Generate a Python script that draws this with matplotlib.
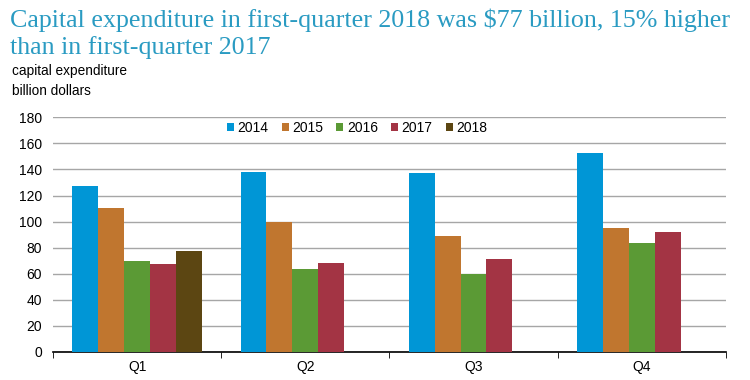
import numpy as np
import matplotlib.pyplot as plt

plt.rcParams['font.family'] = ['Liberation Sans', 'DejaVu Sans']

# datos (miles de millones de dólares)
quarters = ['Q1', 'Q2', 'Q3', 'Q4']
years = ['2014', '2015', '2016', '2017', '2018']
v2014 = [127, 138, 137.5, 153]
v2015 = [110.5, 100, 89, 95]
v2016 = [69.5, 63.5, 59.5, 83.5]
v2017 = [67, 68.5, 71.5, 92]
v2018 = [77, None, None, None]
colors = ['#0096D6', '#C0762F', '#5B9A35', '#A33444', '#5C4612']

series = [v2014, v2015, v2016, v2017, v2018]

fig = plt.figure(figsize=(7.5, 3.8), dpi=100)
ax = fig.add_axes([0.0707, 0.0745, 0.897, 0.6165])

x = np.arange(len(quarters))
w = 0.154
for i, (yr, vals, c) in enumerate(zip(years, series, colors)):
    xs = np.array([xi for xi, v in zip(x, vals) if v is not None])
    ys = [v for v in vals if v is not None]
    ax.bar(xs + (i - 2) * w, ys, width=w, color=c, label=yr, zorder=3)

ax.set_xlim(-0.5, 3.5)
ax.set_ylim(0, 180)
ax.set_yticks(range(0, 181, 20))
ax.yaxis.grid(True, color='#A6A6A6', linewidth=1, zorder=0)
ax.set_xticks(x)
ax.set_xticklabels(quarters)
ax.set_xticks(np.arange(-0.5, 4, 1), minor=True)
ax.tick_params(axis='x', which='major', length=0, labelsize=10, pad=6)
ax.tick_params(axis='x', which='minor', length=4, direction='out', color='black')
ax.tick_params(axis='y', length=0, labelsize=10, pad=8)
for s in ['top', 'right', 'left']:
    ax.spines[s].set_visible(False)
ax.spines['bottom'].set_color('black')
ax.spines['bottom'].set_linewidth(1.2)

ax.legend(loc='center', bbox_to_anchor=(0.452, 0.954), ncol=5, frameon=False,
          fontsize=10, handlelength=0.5, handleheight=0.5, handletextpad=0.25,
          columnspacing=0.95, borderpad=0)

# título en dos líneas
fig.text(0.013, 0.929, 'Capital expenditure in first-quarter 2018 was $77 billion, 15% higher',
         family='Liberation Serif', fontsize=18.7, color='#2A9BC2', va='baseline')
fig.text(0.013, 0.858, 'than in first-quarter 2017',
         family='Liberation Serif', fontsize=18.7, color='#2A9BC2', va='baseline')
fig.text(0.016, 0.803, 'capital expenditure', fontsize=9.8, va='baseline')
fig.text(0.016, 0.751, 'billion dollars', fontsize=9.8, va='baseline')

plt.savefig('out.png', dpi=100)
